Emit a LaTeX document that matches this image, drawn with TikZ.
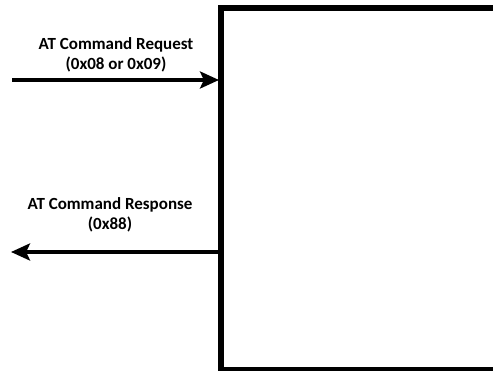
\documentclass[tikz,border=0pt]{standalone}
\usepackage{fontspec}
\setmainfont{Carlito}
\usetikzlibrary{arrows.meta}
\tikzset{msglabel/.style={inner sep=0.75pt,align=center,font=\bfseries\fontsize{17}{20}\selectfont},
    msgline/.style={line width=4pt,-{Stealth[length=19pt,width=17pt,inset=4pt]}}}
\begin{document}
\begin{tikzpicture}[x=1pt,y=1pt,yscale=-1,xscale=1]
\useasboundingbox (0,0) rectangle (493,371);
\clip (0,0) rectangle (493,371);

%Shape: Rectangle [id:module]
\draw [line width=5.5pt] (221,8) rectangle (620,369.5) ;
\coordinate (reqstart) at (12,80);
\coordinate (reqend) at (219,80);
\coordinate (respstart) at (219,252);
\coordinate (respend) at (11,252);
%Straight Lines [id:request]
\draw [msgline] (reqstart) -- (reqend) ;
%Straight Lines [id:response]
\draw [msgline] (respstart) -- (respend) ;

% Text Node
\node (reqlabel) [msglabel] at (116,55) {AT Command Request\\(0x08 or 0x09)};
% Text Node
\node (resplabel) [msglabel] at (110,215) {AT Command Response\\(0x88)};

\end{tikzpicture}
\end{document}
